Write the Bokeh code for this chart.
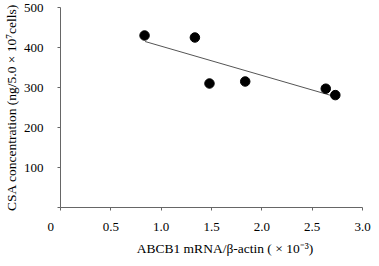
from bokeh.plotting import figure
from bokeh.models import Range1d, FixedTicker, PrintfTickFormatter
from bokeh.embed import file_html
from bokeh.resources import INLINE

abcb1 = [0.835, 1.335, 1.48, 1.835, 2.635, 2.73]
csa = [430, 425, 310, 315, 297, 281]
fit_x = [0.84, 2.73]
fit_y = [415, 277]
x_ticks = [0, 0.5, 1.0, 1.5, 2.0, 2.5, 3.0]
y_ticks = [0, 100, 200, 300, 400, 500]

FONT = "Liberation Serif"
TICK_SIZE = "13px"
LABEL_SIZE = "13.5px"

p = figure(width=371, height=258, output_backend="svg", toolbar_location=None,
           x_range=Range1d(0, 3.0), y_range=Range1d(0, 500))
p.min_border_left = 54
p.min_border_right = 9
p.min_border_top = 7
p.min_border_bottom = 46
p.outline_line_color = None
p.xgrid.visible = False
p.ygrid.visible = False
p.background_fill_color = "white"

p.line(fit_x, fit_y, line_color="#555555", line_width=1)
p.scatter(abcb1, csa, size=9.5, fill_color="black", line_color="black")

for ax in (p.xaxis[0], p.yaxis[0]):
    ax.axis_line_color = "#666666"
    ax.major_tick_line_color = "#666666"
    ax.minor_tick_line_color = None
    ax.major_tick_in = 0
    ax.major_tick_out = 3
    ax.major_label_text_font = FONT
    ax.major_label_text_font_size = TICK_SIZE
    ax.major_label_text_color = "black"
    ax.axis_label_text_font = FONT
    ax.axis_label_text_font_size = LABEL_SIZE
    ax.axis_label_text_font_style = "normal"
    ax.axis_label_text_color = "black"

p.xaxis.ticker = FixedTicker(ticks=x_ticks)
p.xaxis.formatter = PrintfTickFormatter(format="%.1f")
# origin label sits left of the axis corner, as in the source figure
p.xaxis.major_label_overrides = {0: "0\u2003\u2002"}
p.xaxis.major_label_standoff = 8
p.xaxis.axis_label = "\u2003\u2003ABCB1 mRNA/β-actin ( × 10⁻³)"
p.xaxis.axis_label_standoff = 4

p.yaxis.ticker = FixedTicker(ticks=y_ticks)
p.yaxis.major_label_overrides = {0: ""}
p.yaxis.major_label_standoff = 14
p.yaxis.axis_label = "CSA concentration (ng/5.0 × 10⁷cells)"
p.yaxis.axis_label_standoff = 2

open("out.html", "w").write(file_html(p, INLINE))
